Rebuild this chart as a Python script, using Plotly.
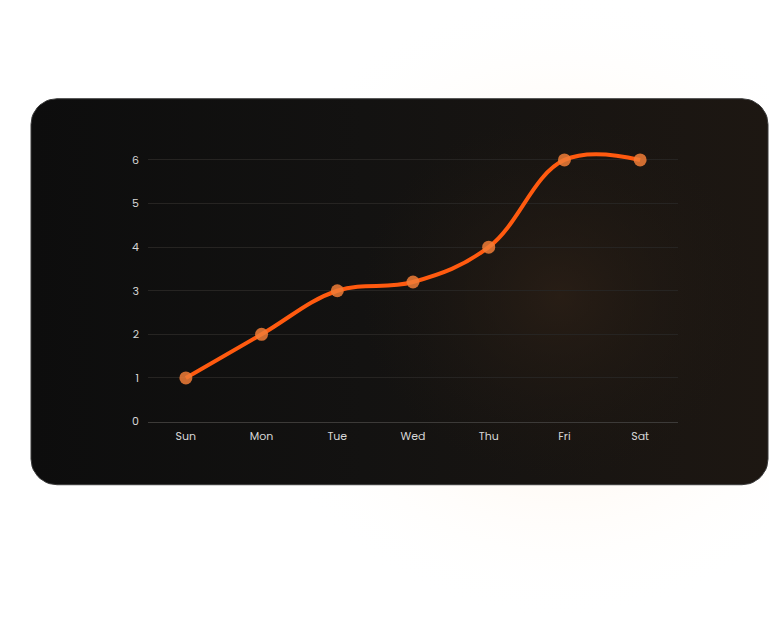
import numpy as np
import plotly.graph_objects as go

days = ["Sun", "Mon", "Tue", "Wed", "Thu", "Fri", "Sat"]
values = [1, 2, 3, 3.2, 4, 6, 6]
y_ticks = [0, 1, 2, 3, 4, 5, 6]

W, H = 769, 626

def rounded_rect(x0, y0, x1, y1, r, n=12):
    xs, ys = [], []
    corners = [(x1 - r, y0 + r, -90, 0), (x1 - r, y1 - r, 0, 90),
               (x0 + r, y1 - r, 90, 180), (x0 + r, y0 + r, 180, 270)]
    for cx, cy, a0, a1 in corners:
        for a in np.linspace(np.radians(a0), np.radians(a1), n):
            xs.append(cx + r * np.cos(a))
            ys.append(cy + r * np.sin(a))
    xs.append(xs[0]); ys.append(ys[0])
    return xs, ys

def ellipse(cx, cy, rx, ry, n=90):
    t = np.linspace(0, 2 * np.pi, n)
    return list(cx + rx * np.cos(t)), list(cy + ry * np.sin(t))

fig = go.Figure()

# soft warm glow on the page behind the card
gx, gy = ellipse(560, 310, 330, 320)
fig.add_trace(go.Scatter(x=gx, y=gy, mode="lines", fill="toself", line=dict(width=0),
                         fillgradient=dict(type="radial",
                                           colorscale=[[0, "rgba(255,238,220,0.5)"], [0.6, "rgba(255,245,235,0.35)"],
                                                       [1, "rgba(255,255,255,0)"]]),
                         hoverinfo="skip", showlegend=False, xaxis="x", yaxis="y"))

# card
cx_, cy_ = rounded_rect(31, 100, 768, 491, 26)
fig.add_trace(go.Scatter(x=cx_, y=cy_, mode="lines", fill="toself", line=dict(width=1, color="#3a3a3a"),
                         fillgradient=dict(type="horizontal",
                                           colorscale=[[0, "#0d0d0d"], [0.45, "#131211"], [1, "#1d1712"]]),
                         hoverinfo="skip", showlegend=False, xaxis="x", yaxis="y"))
# inner warm glow
ex, ey = ellipse(560, 300, 200, 185)
fig.add_trace(go.Scatter(x=ex, y=ey, mode="lines", fill="toself", line=dict(width=0),
                         fillgradient=dict(type="radial",
                                           colorscale=[[0, "rgba(45,32,22,0.75)"], [1, "rgba(30,24,18,0)"]]),
                         hoverinfo="skip", showlegend=False, xaxis="x", yaxis="y"))

# main line
fig.add_trace(go.Scatter(x=days, y=values, mode="lines+markers",
                         line=dict(color="#ff5a0f", width=4, shape="spline", smoothing=1.1),
                         marker=dict(size=13, color="rgba(240,125,55,0.85)", line=dict(width=0)),
                         cliponaxis=False, showlegend=False, xaxis="x2", yaxis="y2"))

unit = (427 - 162) / 6.0
ytop = 162 - 0.3 * unit

fig.update_layout(
    width=W, height=H,
    margin=dict(l=0, r=0, t=0, b=0, pad=0),
    paper_bgcolor="white", plot_bgcolor="rgba(0,0,0,0)",
    font=dict(family="Poppins, Inter, sans-serif", color="#d6d6d6", size=11),
    xaxis=dict(domain=[0, 1], range=[0, W], visible=False, fixedrange=True),
    yaxis=dict(domain=[0, 1], range=[H, 0], visible=False, fixedrange=True),
    xaxis2=dict(domain=[148 / W, 678 / W], anchor="y2", range=[-0.5, 6.5],
                showgrid=False, showline=True, linecolor="#3c3a38", linewidth=1,
                ticks="", ticklabelstandoff=4, tickfont=dict(size=11, color="#d6d6d6"), zeroline=False),
    yaxis2=dict(domain=[(H - 427) / H, (H - ytop) / H], anchor="x2", range=[0, 6.3],
                tickvals=y_ticks, showgrid=True, gridcolor="#262422", gridwidth=1,
                showline=False, zeroline=False, ticks="", ticklabelstandoff=8,
                tickfont=dict(size=11, color="#d6d6d6")),
)

fig.write_html("out.html", config={"displayModeBar": False},
               post_script="document.body.style.margin='0';document.body.style.overflow='hidden';")
